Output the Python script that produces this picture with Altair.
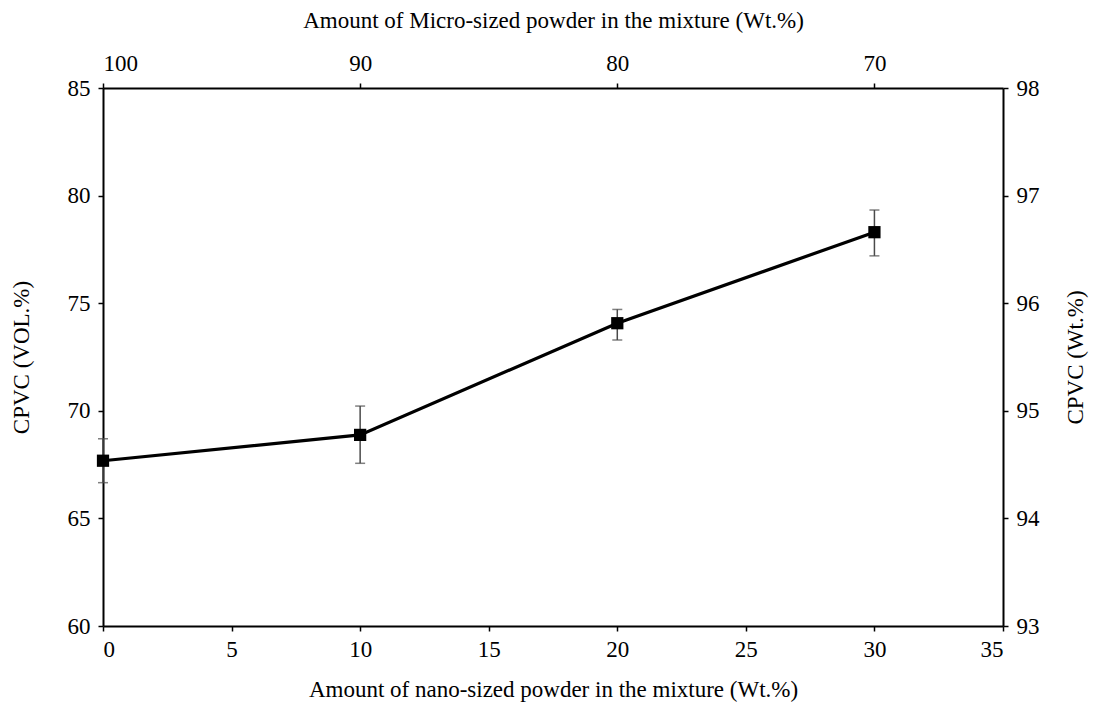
import altair as alt
import pandas as pd

nano = [0, 10, 20, 30]
cpvc_vol = [67.68, 68.88, 74.07, 78.30]
err_low = [66.66, 67.56, 73.29, 77.20]
err_high = [68.70, 70.22, 74.71, 79.33]

micro_ticks = [100, 90, 80, 70]
wt_ticks = [93, 94, 95, 96, 97, 98]

df = pd.DataFrame({"nano": nano, "cpvc": cpvc_vol, "lo": err_low, "hi": err_high})
dummy = pd.DataFrame({"micro": [100, 90, 80, 70, 70, 70], "wt": wt_ticks})

FONT = "Liberation Serif"
FS = 23

x_main = alt.X("nano:Q", scale=alt.Scale(domain=[0, 35], nice=False, zero=False),
               axis=alt.Axis(orient="bottom", values=list(range(0, 36, 5)),
                             title="Amount of nano-sized powder in the mixture (Wt.%)",
                             titlePadding=17, labelPadding=7))
y_main = alt.Y("cpvc:Q", scale=alt.Scale(domain=[60, 85], nice=False, zero=False),
               axis=alt.Axis(orient="left", values=list(range(60, 86, 5)),
                             title="CPVC (VOL.%)", titlePadding=34, labelPadding=8))

line = alt.Chart(df).mark_line(color="black", strokeWidth=3.2).encode(x=x_main, y=y_main)
rules = alt.Chart(df).mark_rule(color="#4a4a4a", strokeWidth=1.5).encode(
    x="nano:Q", y="lo:Q", y2="hi:Q")
cap_lo = alt.Chart(df).mark_tick(color="#4a4a4a", orient="horizontal", size=10, thickness=1.5).encode(
    x="nano:Q", y="lo:Q")
cap_hi = alt.Chart(df).mark_tick(color="#4a4a4a", orient="horizontal", size=10, thickness=1.5).encode(
    x="nano:Q", y="hi:Q")
pts = alt.Chart(df).mark_square(color="black", opacity=1, size=150).encode(x="nano:Q", y="cpvc:Q")

main = alt.layer(line, rules, cap_lo, cap_hi, pts)

sec = alt.Chart(dummy).mark_point(opacity=0).encode(
    x=alt.X("micro:Q", scale=alt.Scale(domain=[100, 65], nice=False, zero=False),
            axis=alt.Axis(orient="top", values=micro_ticks,
                          title="Amount of Micro-sized powder in the mixture (Wt.%)",
                          titlePadding=20, labelPadding=8)),
    y=alt.Y("wt:Q", scale=alt.Scale(domain=[93, 98], nice=False, zero=False),
            axis=alt.Axis(orient="right", values=wt_ticks, title="CPVC (Wt.%)",
                          titleAngle=270, titlePadding=48, labelPadding=8)),
)

chart = alt.layer(main, sec).resolve_scale(x="independent", y="independent").properties(
    width=900, height=538,
    background="white",
    autosize=alt.AutoSizeParams(type="none"),
    padding={"left": 103, "top": 88, "right": 91, "bottom": 87},
).configure_view(stroke=None).configure_axis(
    domainColor="black", domainWidth=2, tickColor="black", tickWidth=1.5, tickSize=5,
    grid=False, labelFont=FONT, titleFont=FONT, labelFontSize=FS, titleFontSize=FS,
    labelColor="black", titleColor="black", titleFontWeight="normal",
)

chart.save("out.html", embed_options={"renderer": "svg", "actions": False})
